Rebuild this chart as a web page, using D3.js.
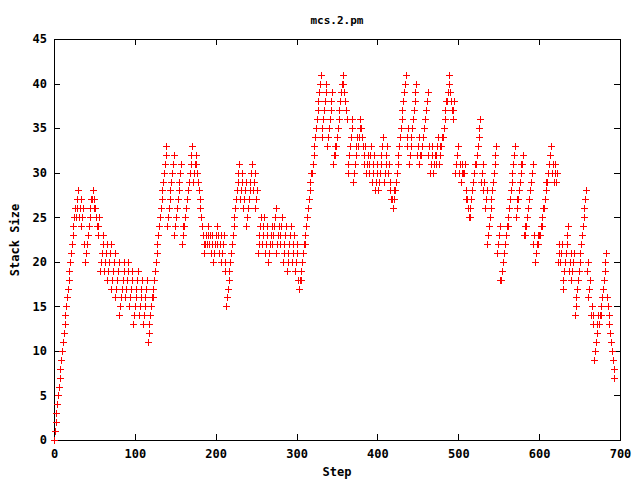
<!DOCTYPE html>
<html><head><meta charset="utf-8">
<script src="https://cdn.jsdelivr.net/npm/d3@7"></script>
<style>body{margin:0;background:#fff}svg{display:block}</style>
</head><body>
<svg id="c" width="640" height="480"></svg>
<script>
const title = "mcs.2.pm";
const xLabel = "Step";
const yLabel = "Stack Size";
const xTicks = [0, 100, 200, 300, 400, 500, 600, 700];
const yTicks = [0, 5, 10, 15, 20, 25, 30, 35, 40, 45];
// stack size at each step (step = index)
const stackSize = [
0,1,2,3,4,5,6,7,8,9,10,11,12,13,14,15,16,17,18,19,20,21,22,
23,24,25,26,25,26,27,28,25,26,27,24,25,26,22,20,21,21,22,23,24,25,26,27,27,28,26,27,26,25,24,23,24,25,
19,20,21,22,23,19,20,21,22,18,19,20,21,22,17,18,19,20,21,16,17,18,19,20,14,15,16,17,18,19,20,16,17,18,19,20,15,16,17,18,19,13,14,15,16,17,18,19,14,15,16,17,18,13,14,15,16,17,18,
11,12,13,14,15,16,16,17,18,19,20,21,22,23,24,25,26,27,28,29,30,31,32,33,
24,25,26,27,28,29,30,31,32,23,24,25,26,27,28,29,30,31,22,23,24,24,25,26,27,27,28,29,30,31,32,33,29,30,31,32,31,30,29,28,27,26,25,24,23,22,21,
22,23,22,23,24,22,23,21,22,23,20,21,22,23,24,22,23,21,22,23,20,21,22,23,19,20,
15,16,17,18,19,20,21,22,23,24,25,26,27,28,29,30,31,
27,28,29,30,26,27,28,29,24,25,26,27,28,29,30,31,28,29,30,26,27,28,
21,22,23,24,25,22,23,24,25,21,22,23,24,20,21,22,23,24,22,23,24,25,26,21,22,23,24,22,23,24,25,20,21,22,23,24,19,20,21,22,23,24,20,21,22,23,19,20,21,22,
18,
17,18,18,19,20,21,22,22,23,24,25,26,27,28,29,30,30,31,32,33,34,35,36,37,38,39,40,41,
34,35,36,37,38,39,40,33,34,35,36,37,38,39,31,32,32,33,33,34,35,36,37,38,39,40,41,
40,39,38,37,36,30,31,32,33,34,35,36,29,30,31,32,33,34,33,34,35,36,35,34,33,31,32,33,30,31,32,30,31,32,33,29,30,31,32,28,29,30,31,28,29,30,31,32,33,34,29,30,31,32,33,30,31,29,28,27,27,26,
27,28,28,29,30,31,32,33,34,35,36,37,38,39,40,41,
33,34,35,31,32,33,34,35,36,37,38,39,40,32,33,34,31,32,32,33,34,35,35,36,37,38,39,32,33,30,31,32,33,30,31,32,31,32,33,34,31,32,33,33,34,34,35,36,37,38,38,39,40,41,
39,38,37,36,37,38,30,31,32,32,33,30,31,29,30,31,30,30,31,28,27,27,26,25,25,26,27,28,29,30,30,31,31,32,33,34,35,36,
29,30,31,28,29,26,27,28,22,23,24,25,26,27,28,29,30,31,32,33,21,22,23,24,18,18,19,20,21,21,22,23,24,24,25,26,27,28,29,30,31,32,33,
25,26,27,27,28,29,30,31,31,32,23,24,23,24,25,26,27,27,28,29,30,31,22,23,20,21,22,23,22,23,23,24,24,25,26,26,27,28,29,29,30,31,32,32,33,
30,31,29,30,31,29,30,20,21,22,20,21,22,17,18,19,20,21,22,23,24,19,20,21,18,19,20,21,14,15,16,17,18,19,20,21,22,23,24,25,26,27,28,
19,20,16,17,18,14,15,13,14,9,10,11,12,13,14,13,14,14,15,16,17,18,19,20,21,16,15,14,13,12,11,10,9,8,7
];
const points = stackSize.map((v, i) => ({ step: i, size: v }));

const FONT = "'DejaVu Sans Mono', 'Liberation Mono', monospace";
const svg = d3.select("#c");
const x = d3.scaleLinear().domain([0, 700]).range([54, 620]);
const y = d3.scaleLinear().domain([0, 45]).range([440, 39]);

function styleAxis(g) {
  g.select(".domain").attr("stroke", "#000").attr("stroke-width", 1);
  g.selectAll(".tick line").attr("stroke", "#000").attr("stroke-width", 1);
  g.selectAll("text").attr("font-family", FONT).attr("font-size", 12)
    .attr("font-weight", "bold").attr("fill", "#000");
  g.attr("shape-rendering", "crispEdges");
}

svg.append("g").attr("transform", "translate(0,440)")
  .call(d3.axisBottom(x).tickValues(xTicks).tickSizeInner(-6).tickSizeOuter(0).tickPadding(9).tickFormat(d3.format("d")))
  .call(styleAxis);
svg.append("g").attr("transform", "translate(0,39)")
  .call(d3.axisTop(x).tickValues(xTicks).tickSizeInner(-6).tickSizeOuter(0).tickFormat(""))
  .call(styleAxis);
svg.append("g").attr("transform", "translate(54,0)")
  .call(d3.axisLeft(y).tickValues(yTicks).tickSizeInner(-6).tickSizeOuter(0).tickPadding(7).tickFormat(d3.format("d")))
  .call(styleAxis);
svg.append("g").attr("transform", "translate(620,0)")
  .call(d3.axisRight(y).tickValues(yTicks).tickSizeInner(-6).tickSizeOuter(0).tickFormat(""))
  .call(styleAxis);

svg.append("g").selectAll("path").data(points).join("path")
  .attr("fill", "none").attr("stroke", "#ff0000").attr("stroke-width", 1)
  .attr("d", d => {
    const cx = Math.round(x(d.step)), cy = Math.round(y(d.size));
    return `M${cx - 3},${cy + 0.5}h7M${cx + 0.5},${cy - 3}v7`;
  });

svg.append("text").attr("x", 337).attr("y", 24).attr("text-anchor", "middle")
  .attr("font-family", FONT).attr("font-size", 11).attr("font-weight", "bold").text(title);
svg.append("text").attr("x", 337).attr("y", 476).attr("text-anchor", "middle")
  .attr("font-family", FONT).attr("font-size", 12).attr("font-weight", "bold").text(xLabel);
svg.append("text").attr("transform", "translate(19,240) rotate(-90)").attr("text-anchor", "middle")
  .attr("font-family", FONT).attr("font-size", 12).attr("font-weight", "bold").text(yLabel);
</script>
</body></html>
